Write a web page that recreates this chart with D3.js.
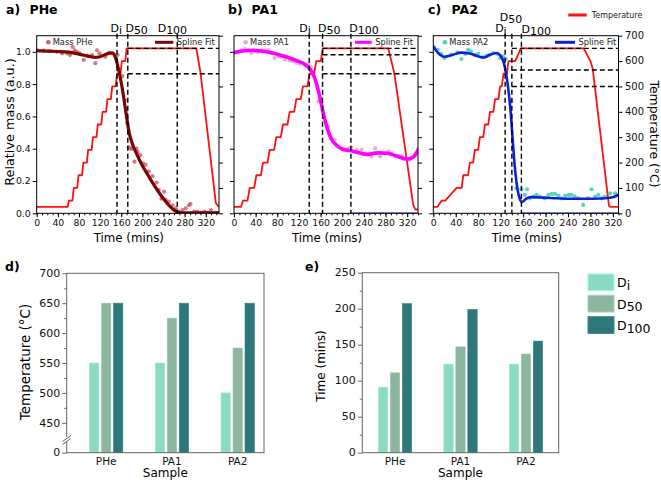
<!DOCTYPE html>
<html><head><meta charset="utf-8">
<script src="https://cdn.jsdelivr.net/npm/d3@7/dist/d3.min.js"></script>
<style>
html,body{margin:0;padding:0;background:#fff;}
svg{display:block;}
</style></head>
<body>
<svg id="chart" width="661" height="483" xmlns="http://www.w3.org/2000/svg"></svg>
<script>
// ================= DATA =================
const timeTicks = [0,40,80,120,160,200,240,280,320];
const massTicks = [0,0.2,0.4,0.6,0.8,1.0];
const tempTicks = [0,100,200,300,400,500,600,700];

// --- PHe (panel a)
const pheTime = [1,13,25,38,48,58,63,68,72,76,81,89,95,105,111,114,119,130,136,143,153,162,167,171,174,177,181,185,189,191,196,201,206,212,219,227,231,236,241,244,250,257,263,269,276,282,288,291,298,304,310,317,323,330,339];
const pheMass = [1.01,1.007,1.005,1.0,0.99,0.99,0.98,1.03,1.01,1.0,0.99,0.95,0.976,0.98,0.93,1.01,0.99,0.97,0.99,0.99,0.98,0.85,0.70,0.56,0.41,0.40,0.40,0.32,0.40,0.38,0.36,0.31,0.30,0.26,0.23,0.19,0.145,0.09,0.134,0.083,0.072,0.05,0.03,0.01,0.02,0.03,0.05,0.058,0.01,0.01,0.005,0.01,0.004,0.02,0.004];
const pheSplineTime = [0,20,40,60,80,100,110,120,130,140,145,150,155,160,165,170,175,180,190,200,210,220,230,240,250,260,270,280,300,320,345];
const pheSplineMass = [1.007,1.005,1.002,0.998,0.986,0.972,0.966,0.97,0.984,0.994,0.99,0.955,0.889,0.81,0.71,0.6,0.5,0.44,0.362,0.295,0.24,0.185,0.135,0.09,0.05,0.02,0.005,0.003,0.003,0.003,0.003];
const pheTempTime = [0,58.5,61,67.6,70.1,76.7,79.2,85.8,88.3,94.9,97.4,104,106.5,113.1,115.6,122.2,124.7,131.3,133.8,140.4,142.9,149.5,152,158.6,161.1,167.7,170.2,302,310,339,345];
const pheTempVal  = [25,25,50,50,100,100,150,150,200,200,250,250,300,300,350,350,400,400,450,450,500,500,550,550,600,600,650,650,555,40,25];
const pheDTimes = [152,172.4,266];
const pheRefTemps = [650,550];

// --- PA1 (panel b)
const pa1Time = [1,7,14,20,26,32,38,44,51,57,63,69,75,82,88,94,103,109,115,122,131,137,142,156,174,180,186,193,202,211,217,227,236,242,248,254,261,270,279,285,291,298,304,310,316,325,335];
const pa1Mass = [0.993,0.997,1.009,1.017,1.009,0.993,1.003,0.997,1.009,1.009,1.013,0.993,0.962,0.972,0.968,0.951,0.947,0.941,0.931,0.926,0.92,0.924,0.906,0.693,0.538,0.465,0.455,0.414,0.393,0.403,0.409,0.393,0.393,0.372,0.362,0.352,0.403,0.352,0.372,0.383,0.368,0.356,0.356,0.352,0.337,0.331,0.362];
const pa1SplineTime = [0,15,35,60,80,100,120,130,140,145,150,155,160,165,170,175,180,190,200,220,245,265,283,300,320,332,341];
const pa1SplineMass = [0.995,1.005,1.01,1.0,0.985,0.965,0.94,0.925,0.895,0.87,0.83,0.77,0.70,0.62,0.555,0.50,0.46,0.42,0.398,0.385,0.365,0.374,0.372,0.355,0.336,0.35,0.40];
const pa1TempTime = [0,12.7,16.7,25,29,37.3,41.3,49.6,53.6,61.9,65.9,74.2,78.2,86.5,90.5,98.8,102.8,111.1,115.1,123.4,127.4,135.7,139.7,148,152,160.3,164.3,285,296,331,335,340];
const pa1TempVal  = [25,25,50,50,100,100,150,150,200,200,250,250,300,300,350,350,400,400,450,450,500,500,550,550,600,600,650,650,555,35,15,15];
const pa1DTimes = [139,163.6,216];
const pa1RefTemps = [650,625,550];

// --- PA2 (panel c)
const pa2Time = [2,8,14,20,32,43,50,57,62,67,73,80,89,95,101,107,114,119,124,129,139,148,157,163,167,172,178,184,190,198,205,211,217,223,229,235,241,246,252,258,267,276,282,288,294,300,306,315,324];
const pa2Mass = [1.024,1.013,0.988,0.962,0.982,0.997,0.955,0.988,1.013,1.003,0.982,0.988,0.968,0.976,0.982,0.993,0.988,0.962,0.972,0.955,0.693,0.155,0.149,0.114,0.149,0.093,0.103,0.114,0.103,0.093,0.114,0.12,0.12,0.11,0.093,0.108,0.114,0.114,0.103,0.093,0.052,0.093,0.149,0.103,0.114,0.093,0.103,0.124,0.124];
const pa2SplineTime = [0,8,20,35,50,65,80,90,100,112,120,125,130,134,138,142,146,150,154,158,165,175,190,210,240,270,300,320,330];
const pa2SplineMass = [1.034,0.995,0.97,0.982,0.995,0.99,0.972,0.965,0.98,0.993,0.975,0.94,0.86,0.76,0.62,0.43,0.26,0.15,0.09,0.07,0.09,0.1,0.098,0.095,0.09,0.09,0.092,0.1,0.115];
const pa2TempTime = [0,7,15,21.4,41.5,50.5,53.5,62,65,71,74,80,83,89,92,98,101,107,110,116,119,122,125,131,134,146,156,268,280,284,313,316,330];
const pa2TempVal  = [25,25,50,50,100,100,150,150,200,200,250,250,300,300,350,350,400,400,450,450,500,500,550,550,600,600,650,650,600,570,30,25,25];
const pa2DTimes = [128,140,157];
const pa2RefTemps = [650,565,500];

// --- bar charts (panels d, e)
const samples = ["PHe","PA1","PA2"];
const dSubs = ["i","50","100"];
const barTempDi   = [550,550,500];
const barTempD50  = [650,625,575];
const barTempD100 = [650,650,650];
const barTimeDi   = [91,123,123];
const barTimeD50  = [111,147,137];
const barTimeD100 = [207,199,155];
const barTempTicks = [400,450,500,550,600,650,700];
const barTempTickLabels = ["0","450","500","550","600","650","700"];
const barTempMinor = [475,525,575,625,675];
const barTimeTicks = [0,50,100,150,200,250];
const barTimeTickLabels = ["0","50","100","150","200","250"];
const barTimeMinor = [25,75,125,175,225];
const barColors = ["#8cd9c4","#8db69f","#2e777b"];

// ================= DRAWING =================
const FONT = "'DejaVu Sans', Verdana, sans-serif";
const svg = d3.select("#chart");
svg.append("rect").attr("width",661).attr("height",483).attr("fill","#fff");
const TY0 = 213.3, TY1 = 35.7;

function styleAxis(sel, color, fs) {
  sel.select(".domain").remove();
  sel.selectAll(".tick line").attr("stroke", color);
  sel.selectAll(".tick text").attr("fill", "#111").attr("font-family", FONT).attr("font-size", fs);
  sel.attr("font-family", FONT);
}

function dLabel(g, x, y, sub, fs) {
  const t = g.append("text").attr("x", x).attr("y", y).attr("font-family", FONT).attr("font-size", fs).attr("fill","#000");
  t.append("tspan").text("D");
  t.append("tspan").attr("dy", fs*0.22).text(sub);
}

function topPanel(p) {
  const g = svg.append("g");
  const x = d3.scaleLinear().domain([0, p.tMax]).range([p.x0, p.x1]);
  const y = d3.scaleLinear().domain([0, 1.1]).range([TY0, TY1]);
  const yT = d3.scaleLinear().domain([0, 700]).range([TY0, TY1]);
  const cid = "clip_" + p.id;
  svg.append("clipPath").attr("id", cid).append("rect")
    .attr("x", p.x0).attr("y", TY1).attr("width", p.x1 - p.x0).attr("height", TY0 - TY1);
  const plot = g.append("g").attr("clip-path", `url(#${cid})`);
  const dash = "5,3";

  p.refT.forEach(T => {
    g.append("line").attr("x1", x(p.dT[1])).attr("x2", p.x1).attr("y1", yT(T)).attr("y2", yT(T))
      .attr("stroke", "#000").attr("stroke-width", 1.4).attr("stroke-dasharray", dash);
  });
  if (p.blueBase) {
    plot.append("line").attr("x1", x(p.dT[2])).attr("x2", p.x1).attr("y1", y(0)).attr("y2", y(0))
      .attr("stroke", "#2233dd").attr("stroke-width", 1.6);
  }
  plot.append("path").datum(d3.zip(p.tempT, p.tempV))
    .attr("d", d3.line().x(d => x(d[0])).y(d => yT(d[1])))
    .attr("fill", "none").attr("stroke", "#ff1010").attr("stroke-width", 1.8).attr("stroke-linejoin","round");
  plot.append("g").selectAll("circle").data(d3.zip(p.ptT, p.ptM)).join("circle")
    .attr("cx", d => x(d[0])).attr("cy", d => y(d[1])).attr("r", 2.1)
    .attr("fill", p.ptColor).attr("fill-opacity", p.ptOp);
  plot.append("path").datum(d3.zip(p.spT, p.spM))
    .attr("d", d3.line().curve(d3.curveMonotoneX).x(d => x(d[0])).y(d => y(d[1])))
    .attr("fill", "none").attr("stroke", p.spColor).attr("stroke-width", p.spW).attr("stroke-linecap","round");
  p.dT.forEach(t => {
    g.append("line").attr("x1", x(t)).attr("x2", x(t)).attr("y1", TY1 - 2).attr("y2", TY0)
      .attr("stroke", "#000").attr("stroke-width", 1.4).attr("stroke-dasharray", dash);
  });
  g.append("rect").attr("x", p.x0).attr("y", TY1).attr("width", p.x1 - p.x0).attr("height", TY0 - TY1)
    .attr("fill", "none").attr("stroke", "#000").attr("stroke-width", 1);

  // axes
  g.append("g").attr("transform", `translate(0,${TY0})`)
    .call(d3.axisBottom(x).tickValues(d3.range(0, p.tMax + 0.1, 10)).tickSize(2).tickFormat(""))
    .call(s => styleAxis(s, "#000", 9));
  g.append("g").attr("transform", `translate(0,${TY0})`)
    .call(d3.axisBottom(x).tickValues(timeTicks).tickSize(4).tickPadding(2).tickFormat(d3.format("d")))
    .call(s => styleAxis(s, "#000", 9.3));
  g.append("g").attr("transform", `translate(${p.x0},0)`)
    .call(d3.axisLeft(y).tickValues(massTicks).tickSize(4).tickPadding(2)
      .tickFormat(p.leftLabels ? d3.format(".1f") : ""))
    .call(s => styleAxis(s, "#000", 9.3));
  g.append("g").attr("transform", `translate(${p.x1},0)`)
    .call(d3.axisRight(yT).tickValues(tempTicks).tickSize(4).tickFormat(""))
    .call(s => styleAxis(s, "#000", 10));
  if (p.rightLabels) {
    g.append("g").selectAll("text").data(tempTicks).join("text")
      .attr("x", p.x1 + 6.5).attr("y", d => yT(d)).attr("dy", "0.34em")
      .attr("font-family", FONT).attr("font-size", 10).attr("fill", "#111")
      .text(d => String(d));
  }

  g.append("text").attr("x", (p.x0 + p.x1) / 2 + 1).attr("y", 242).attr("text-anchor", "middle")
    .attr("font-family", FONT).attr("font-size", 11.8).text("Time (mins)");

  g.append("text").attr("x", p.titleX).attr("y", 14).attr("font-family", FONT).attr("font-weight", "bold")
    .attr("font-size", 12.5).text(p.letter);
  g.append("text").attr("x", p.titleX + 23.5).attr("y", 14).attr("font-family", FONT).attr("font-weight", "bold")
    .attr("font-size", 12.5).text(p.name);

  p.dT.forEach((t, i) => dLabel(g, x(t) + p.labDx[i], p.labY[i], dSubs[i], 11));

  g.append("circle").attr("cx", p.x0 + 11.6).attr("cy", 42.3).attr("r", 2.3).attr("fill", p.ptColor).attr("fill-opacity", 0.9);
  g.append("text").attr("x", p.x0 + 16).attr("y", 45.2).attr("font-family", FONT).attr("font-size", 8.3)
    .attr("fill", "#222").text("Mass " + p.name);
  g.append("line").attr("x1", p.x1 - p.legLine[0]).attr("x2", p.x1 - p.legLine[1]).attr("y1", 42.3).attr("y2", 42.3)
    .attr("stroke", p.spColor).attr("stroke-width", 3);
  g.append("text").attr("x", p.x1 - p.legLine[1] + 3.5).attr("y", 45.2).attr("font-family", FONT).attr("font-size", 8.3)
    .attr("fill", "#222").text("Spline Fit");
  return {x, y, yT, g};
}

topPanel({id:"a", x0:36.7, x1:219, tMax:345, letter:"a)", name:"PHe", titleX:6,
  ptT:pheTime, ptM:pheMass, ptColor:"#c4505c", ptOp:0.75,
  spT:pheSplineTime, spM:pheSplineMass, spColor:"#7a0606", spW:3.2,
  tempT:pheTempTime, tempV:pheTempVal, dT:pheDTimes, refT:pheRefTemps,
  labDx:[-6.6,-2.4,-19.6], labY:[31.7,31.7,31.7], leftLabels:true, rightLabels:false,
  legLine:[64,45.7], blueBase:false});

topPanel({id:"b", x0:234, x1:418, tMax:340, letter:"b)", name:"PA1", titleX:228,
  ptT:pa1Time, ptM:pa1Mass, ptColor:"#d9a2c8", ptOp:0.85,
  spT:pa1SplineTime, spM:pa1SplineMass, spColor:"#ff00ff", spW:3.6,
  tempT:pa1TempTime, tempV:pa1TempVal, dT:pa1DTimes, refT:pa1RefTemps,
  labDx:[-10,-4.6,-1.6], labY:[31.7,31.7,31.7], leftLabels:false, rightLabels:false,
  legLine:[63,46.3], blueBase:true});

topPanel({id:"c", x0:433.3, x1:618.5, tMax:330, letter:"c)", name:"PA2", titleX:428,
  ptT:pa2Time, ptM:pa2Mass, ptColor:"#3ecdb5", ptOp:0.85,
  spT:pa2SplineTime, spM:pa2SplineMass, spColor:"#1020d8", spW:2.6,
  tempT:pa2TempTime, tempV:pa2TempVal, dT:pa2DTimes, refT:pa2RefTemps,
  labDx:[-10,-12,0], labY:[32.3,20.5,33], leftLabels:false, rightLabels:true,
  legLine:[63.5,43.5], blueBase:true});

svg.append("text").attr("transform", "translate(13.5,122) rotate(-90)").attr("text-anchor", "middle")
  .attr("font-family", FONT).attr("font-size", 12.8).text("Relative mass (a.u.)");
svg.append("text").attr("transform", "translate(649.5,134) rotate(90)").attr("text-anchor", "middle")
  .attr("font-family", FONT).attr("font-size", 12.4).text("Temperature (°C)");
svg.append("line").attr("x1", 568.3).attr("x2", 586.7).attr("y1", 15).attr("y2", 15).attr("stroke", "#ff1010").attr("stroke-width", 3);
svg.append("text").attr("x", 591.7).attr("y", 18).attr("font-family", FONT).attr("font-size", 8).attr("fill","#222").text("Temperature");

// ------------- bar panels -------------
function barPanel(p) {
  const g = svg.append("g");
  const x = d3.scaleLinear().domain(p.xDom).range([p.x0, p.x1]);
  const inner = d3.scaleBand().domain(dSubs).range([-18, 18]).paddingInner(0.22).paddingOuter(0.11);
  const y = d3.scaleLinear().domain(p.yDom).range([p.y0, p.y1]);
  p.values.forEach((arr, j) => {
    g.append("g").selectAll("rect").data(arr).join("rect")
      .attr("x", (d, i) => x(i) + inner(dSubs[j])).attr("width", inner.bandwidth())
      .attr("y", d => y(d)).attr("height", d => y(p.yDom[0]) - y(d))
      .attr("fill", barColors[j]).attr("stroke", d3.color(barColors[j]).brighter(0.25)).attr("stroke-width", 0.6);
  });
  g.append("rect").attr("x", p.x0).attr("y", p.y1).attr("width", p.x1 - p.x0).attr("height", p.y0 - p.y1)
    .attr("fill", "none").attr("stroke", "#666").attr("stroke-width", 1);
  g.append("g").attr("transform", `translate(${p.x0},0)`)
    .call(d3.axisLeft(y).tickValues(p.minor).tickSize(2.5).tickFormat(""))
    .call(s => styleAxis(s, "#666", 11));
  g.append("g").attr("transform", `translate(${p.x0},0)`)
    .call(d3.axisLeft(y).tickValues(p.ticks).tickSize(4.5).tickFormat(""))
    .call(s => styleAxis(s, "#666", 11));
  g.append("g").selectAll("text").data(p.ticks).join("text")
    .attr("x", p.x0 - 6.5).attr("y", d => y(d)).attr("dy", "0.34em").attr("text-anchor", "end")
    .attr("font-family", FONT).attr("font-size", 11).attr("fill", "#111")
    .text((d, i) => p.tickLabels[i]);
  g.append("g").selectAll("text").data(samples).join("text")
    .attr("x", (d, i) => x(i)).attr("y", p.y0 + 12.5).attr("text-anchor", "middle")
    .attr("font-family", FONT).attr("font-size", 10.5).attr("fill", "#111").text(d => d);
  g.append("text").attr("x", (p.x0 + p.x1) / 2).attr("y", 477).attr("text-anchor", "middle")
    .attr("font-family", FONT).attr("font-size", 12).text("Sample");
  g.append("text").attr("transform", `translate(${p.titleX},${p.titleY}) rotate(-90)`).attr("text-anchor", "middle")
    .attr("font-family", FONT).attr("font-size", p.titleFs).text(p.title);
  g.append("text").attr("x", p.letterX).attr("y", 271).attr("font-family", FONT).attr("font-weight", "bold")
    .attr("font-size", 12.5).text(p.letter);
  return {g, x, y};
}

const pd = barPanel({x0:66.7, x1:264, y0:452.7, y1:273.3, xDom:[-0.6, 2.4], yDom:[400, 700],
  values:[barTempDi, barTempD50, barTempD100], ticks:barTempTicks, tickLabels:barTempTickLabels, minor:barTempMinor,
  title:"Temperature (°C)", titleX:29.5, titleY:362, titleFs:13.5, letter:"d)", letterX:5});
pd.g.append("rect").attr("x", 63).attr("y", 437).attr("width", 7).attr("height", 5).attr("fill", "#fff");
[0, 3].forEach(o => pd.g.append("line").attr("x1", 62.7).attr("y1", 441.5 + o).attr("x2", 70.7).attr("y2", 435.5 + o)
  .attr("stroke", "#555").attr("stroke-width", 1));

barPanel({x0:362.3, x1:558.7, y0:452.7, y1:272.7, xDom:[-0.5, 2.5], yDom:[0, 250],
  values:[barTimeDi, barTimeD50, barTimeD100], ticks:barTimeTicks, tickLabels:barTimeTickLabels, minor:barTimeMinor,
  title:"Time (mins)", titleX:325, titleY:366, titleFs:12, letter:"e)", letterX:305});

dSubs.forEach((s, i) => {
  const ly = [274, 295.3, 316.7][i];
  svg.append("rect").attr("x", 588).attr("y", ly).attr("width", 26).attr("height", 16.7)
    .attr("fill", barColors[i]).attr("stroke", d3.color(barColors[i]).brighter(0.4)).attr("stroke-width", 1);
  dLabel(svg, 617, ly + 13.3, s, 12.5);
});
</script>
</body></html>
